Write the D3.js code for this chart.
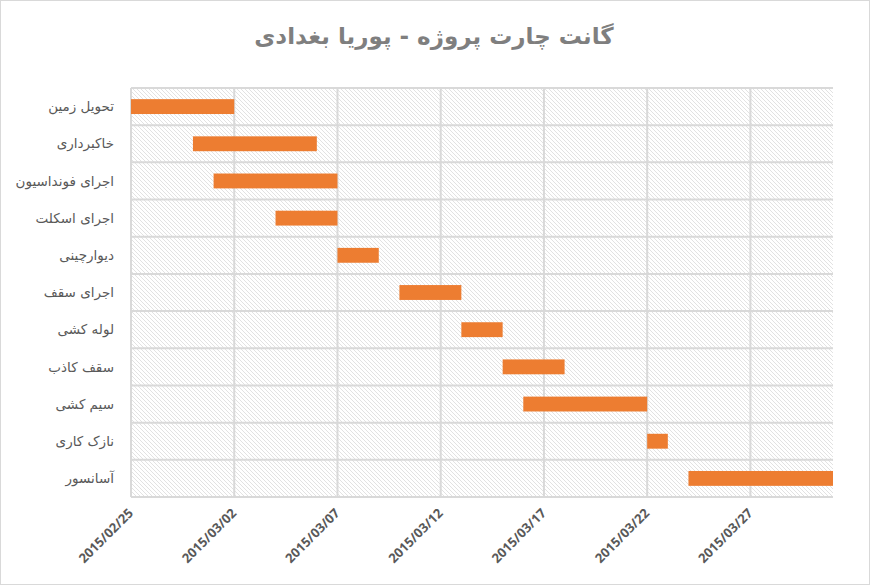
<!DOCTYPE html>
<html><head><meta charset="utf-8">
<script src="https://cdn.jsdelivr.net/npm/d3@7"></script>
<style>
html,body{margin:0;padding:0;background:#fff;}
svg{display:block;}
</style></head>
<body>
<svg id="chart" width="870" height="585"></svg>
<script>
const title = "گانت چارت پروژه - پوریا بغدادی";
const tasks = ["تحویل زمین","خاکبرداری","اجرای فونداسیون","اجرای اسکلت","دیوارچینی","اجرای سقف","لوله کشی","سقف کاذب","سیم کشی","نازک کاری","آسانسور"];
const startDates = ["2015/02/25","2015/02/28","2015/03/01","2015/03/04","2015/03/07","2015/03/10","2015/03/13","2015/03/15","2015/03/16","2015/03/22","2015/03/24"];
const durations = [5,6,6,3,2,3,2,3,6,1,7];
const tickLabels = ["2015/02/25","2015/03/02","2015/03/07","2015/03/12","2015/03/17","2015/03/22","2015/03/27"];
const axisMin = "2015/02/25", axisMax = "2015/03/31";

const parse = d3.utcParse("%Y/%m/%d");
const fmt = d3.utcFormat("%Y/%m/%d");
const DAY = 86400000;

const svg = d3.select("#chart");
svg.append("rect").attr("x",0.5).attr("y",0.5).attr("width",869).attr("height",584)
  .attr("fill","#fff").attr("stroke","#d9d9d9");

const defs = svg.append("defs");
const pat = defs.append("pattern").attr("id","hatch").attr("patternUnits","userSpaceOnUse")
  .attr("width",4).attr("height",4);
pat.append("rect").attr("width",4).attr("height",4).attr("fill","#fff");
pat.append("path").attr("d","M-1,-1 L5,5 M-1,3 L1,5 M3,-1 L5,1")
  .attr("stroke","#d6d6d6").attr("stroke-width",0.7);

const L = 131, R = 833, T = 88, B = 497;
const x = d3.scaleUtc().domain([parse(axisMin), parse(axisMax)]).range([L, R]);
const y = d3.scaleBand().domain(tasks).range([T, B]).paddingInner(0).paddingOuter(0);

svg.append("rect").attr("x",L).attr("y",T).attr("width",R-L).attr("height",B-T).attr("fill","url(#hatch)");

// horizontal grid lines (band boundaries)
const bounds = tasks.map(t => y(t)).concat([B]);
svg.append("g").selectAll("line").data(bounds).join("line")
  .attr("x1",L).attr("x2",R).attr("y1",d=>d).attr("y2",d=>d)
  .attr("stroke","#d9d9d9").attr("stroke-width",2);

// vertical grid lines at ticks
const ticks = tickLabels.map(parse);
svg.append("g").selectAll("line").data(ticks).join("line")
  .attr("x1",d=>x(d)).attr("x2",d=>x(d)).attr("y1",T).attr("y2",B)
  .attr("stroke","#d9d9d9").attr("stroke-width",2);

// bars
const bh = y.bandwidth()/2.5;
svg.append("g").selectAll("rect").data(tasks).join("rect")
  .attr("x",(d,i)=>x(parse(startDates[i])))
  .attr("width",(d,i)=>x(new Date(parse(startDates[i]).getTime()+durations[i]*DAY)) - x(parse(startDates[i])))
  .attr("y",d=>y(d)+(y.bandwidth()-bh)/2)
  .attr("height",bh)
  .attr("fill","#ED7D31");

// category labels
svg.append("g").selectAll("text").data(tasks).join("text")
  .attr("x",114).attr("y",d=>y(d)+y.bandwidth()/2)
  .attr("dy","0.35em")
  .attr("text-anchor","end")
  .attr("font-family","DejaVu Sans, sans-serif")
  .attr("font-size",13.5)
  .attr("fill","#595959")
  .text(d=>d);

// x tick labels
svg.append("g").selectAll("text").data(ticks).join("text")
  .attr("transform",d=>`translate(${x(d)+3},${B+17}) rotate(-45)`)
  .attr("text-anchor","end")
  .attr("font-family","Open Sans, DejaVu Sans, sans-serif")
  .attr("font-weight","bold")
  .attr("font-size",13)
  .attr("fill","#595959")
  .text(d=>fmt(d));

// title
svg.append("text").attr("x",434).attr("y",44)
  .attr("text-anchor","middle")
  .attr("font-family","DejaVu Sans, sans-serif")
  .attr("font-weight","bold").attr("font-size",23)
  .attr("fill","#7f7f7f")
  .text(title);
</script>
</body></html>
